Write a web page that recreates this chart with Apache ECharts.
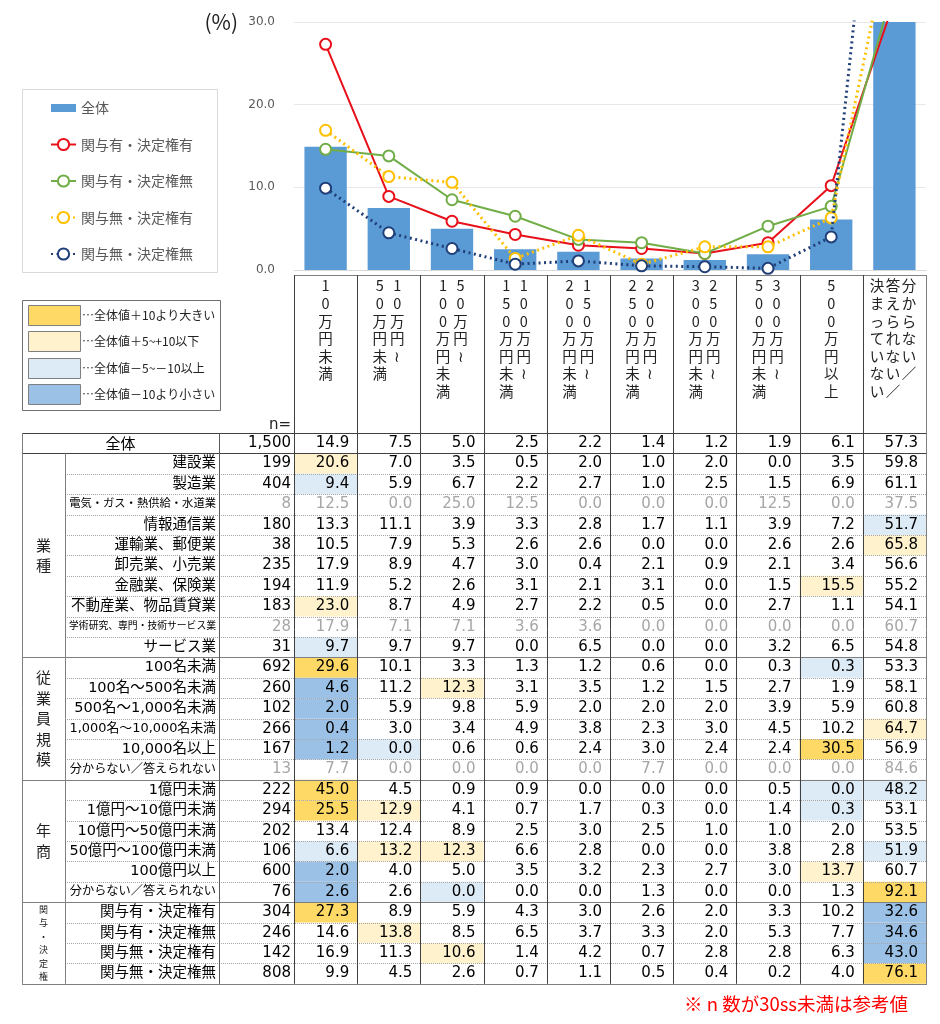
<!DOCTYPE html>
<html>
<head>
<meta charset="utf-8">
<script src="https://cdn.jsdelivr.net/npm/echarts@6/dist/echarts.min.js"></script>
<style>
  html, body { margin: 0; padding: 0; background: #fff; }
  #chart { width: 940px; height: 1024px; }
</style>
</head>
<body>
<div id="chart"></div>
<script>
// ---- data ----
const categories = ['10万円未満', '10万円～50万円未満', '50万円～100万円未満', '100万円～150万円未満',
  '150万円～200万円未満', '200万円～250万円未満', '250万円～300万円未満', '300万円～500万円未満',
  '500万円以上', '分からない／答えられない／決まっていない'];
// 縦書きの見出し（右の列から順に）
const headerLines = [
  ['10万円未満'],
  ['10万円≀', '50万円未満'],
  ['50万円≀', '100万円未満'],
  ['100万円≀', '150万円未満'],
  ['150万円≀', '200万円未満'],
  ['200万円≀', '250万円未満'],
  ['250万円≀', '300万円未満'],
  ['300万円≀', '500万円未満'],
  ['500万円以上'],
  ['分からない／', '答えられない／', '決まっていない']
];
const yTicks = [0, 10, 20, 30];

const totalN = 1500;
const totalValues = [14.9, 7.5, 5.0, 2.5, 2.2, 1.4, 1.2, 1.9, 6.1, 57.3];
const yesYes = [27.3, 8.9, 5.9, 4.3, 3.0, 2.6, 2.0, 3.3, 10.2, 32.6];
const yesNo = [14.6, 13.8, 8.5, 6.5, 3.7, 3.3, 2.0, 5.3, 7.7, 34.6];
const noYes = [16.9, 11.3, 10.6, 1.4, 4.2, 0.7, 2.8, 2.8, 6.3, 43.0];
const noNo = [9.9, 4.5, 2.6, 0.7, 1.1, 0.5, 0.4, 0.2, 4.0, 76.1];
const lineNames = ['関与有・決定権有', '関与有・決定権無', '関与無・決定権有', '関与無・決定権無'];

const groupNames = ['業種', '従業員規模', '年商', '関与・決定権'];
const groupSizes = [10, 6, 6, 4];
const rowLabels = [
  '建設業', '製造業', '電気・ガス・熱供給・水道業', '情報通信業', '運輸業、郵便業', '卸売業、小売業',
  '金融業、保険業', '不動産業、物品賃貸業', '学術研究、専門・技術サービス業', 'サービス業',
  '100名未満', '100名～500名未満', '500名～1,000名未満', '1,000名～10,000名未満', '10,000名以上', '分からない／答えられない',
  '1億円未満', '1億円～10億円未満', '10億円～50億円未満', '50億円～100億円未満', '100億円以上', '分からない／答えられない',
  '関与有・決定権有', '関与有・決定権無', '関与無・決定権有', '関与無・決定権無'
];
const rowN = [199, 404, 8, 180, 38, 235, 194, 183, 28, 31,
  692, 260, 102, 266, 167, 13,
  222, 294, 202, 106, 600, 76,
  304, 246, 142, 808];
const rowValues = [
  [20.6, 7.0, 3.5, 0.5, 2.0, 1.0, 2.0, 0.0, 3.5, 59.8],
  [9.4, 5.9, 6.7, 2.2, 2.7, 1.0, 2.5, 1.5, 6.9, 61.1],
  [12.5, 0.0, 25.0, 12.5, 0.0, 0.0, 0.0, 12.5, 0.0, 37.5],
  [13.3, 11.1, 3.9, 3.3, 2.8, 1.7, 1.1, 3.9, 7.2, 51.7],
  [10.5, 7.9, 5.3, 2.6, 2.6, 0.0, 0.0, 2.6, 2.6, 65.8],
  [17.9, 8.9, 4.7, 3.0, 0.4, 2.1, 0.9, 2.1, 3.4, 56.6],
  [11.9, 5.2, 2.6, 3.1, 2.1, 3.1, 0.0, 1.5, 15.5, 55.2],
  [23.0, 8.7, 4.9, 2.7, 2.2, 0.5, 0.0, 2.7, 1.1, 54.1],
  [17.9, 7.1, 7.1, 3.6, 3.6, 0.0, 0.0, 0.0, 0.0, 60.7],
  [9.7, 9.7, 9.7, 0.0, 6.5, 0.0, 0.0, 3.2, 6.5, 54.8],
  [29.6, 10.1, 3.3, 1.3, 1.2, 0.6, 0.0, 0.3, 0.3, 53.3],
  [4.6, 11.2, 12.3, 3.1, 3.5, 1.2, 1.5, 2.7, 1.9, 58.1],
  [2.0, 5.9, 9.8, 5.9, 2.0, 2.0, 2.0, 3.9, 5.9, 60.8],
  [0.4, 3.0, 3.4, 4.9, 3.8, 2.3, 3.0, 4.5, 10.2, 64.7],
  [1.2, 0.0, 0.6, 0.6, 2.4, 3.0, 2.4, 2.4, 30.5, 56.9],
  [7.7, 0.0, 0.0, 0.0, 0.0, 7.7, 0.0, 0.0, 0.0, 84.6],
  [45.0, 4.5, 0.9, 0.9, 0.0, 0.0, 0.0, 0.5, 0.0, 48.2],
  [25.5, 12.9, 4.1, 0.7, 1.7, 0.3, 0.0, 1.4, 0.3, 53.1],
  [13.4, 12.4, 8.9, 2.5, 3.0, 2.5, 1.0, 1.0, 2.0, 53.5],
  [6.6, 13.2, 12.3, 6.6, 2.8, 0.0, 0.0, 3.8, 2.8, 51.9],
  [2.0, 4.0, 5.0, 3.5, 3.2, 2.3, 2.7, 3.0, 13.7, 60.7],
  [2.6, 2.6, 0.0, 0.0, 0.0, 1.3, 0.0, 0.0, 1.3, 92.1],
  yesYes, yesNo, noYes, noNo
];
// Y:+10超  y:+5～+10  b:-5～-10  B:-10未満
const rowShade = [
  'y.........', 'b.........', '..........', '.........b', '.........y', '..........',
  '........y.', 'y.........', '..........', 'b.........',
  'Y.......b.', 'B.y.......', 'B.........', 'B........y', 'Bb......Y.', '..........',
  'Y.......bb', 'Yy......b.', '..........', 'byy......b', 'B.......y.', 'B.b......Y',
  'Y........B', '.y.......B', '..y......B', '.........Y'
];
const shadeNotes = ['…全体値＋10より大きい', '…全体値＋5~+10以下', '…全体値－5~－10以上', '…全体値－10より小さい'];

// ---- style ----
const FONT_NUM = '"DejaVu Sans", "Noto Sans CJK JP", sans-serif';
const FONT_JP = '"Noto Sans CJK JP", sans-serif';
const shadeColor = { Y: '#FFD966', y: '#FFF2CC', b: '#DDEBF7', B: '#9BC2E6' };
const lineColors = ['#E8101A', '#70AD47', '#FFC000', '#203F78'];

const colLeft = 294, colW = 63.2;
const headTop = 275, rowTop = 433, rowH = 20.4;
const nRows = rowLabels.length + 1;
const tableBottom = rowTop + nRows * rowH;

const measure = document.createElement('canvas').getContext('2d');
function fitSize(text, maxW, base) {
  measure.font = base + 'px ' + FONT_NUM;
  const w = measure.measureText(text).width;
  return w > maxW ? Math.floor(base * maxW / w * 10) / 10 : base;
}

const els = [];
function hline(y, x1, x2, color, dash) {
  els.push({ type: 'line', silent: true, z: dash ? 10 : 11,
    shape: { x1: x1, y1: Math.round(y) + 0.5, x2: x2, y2: Math.round(y) + 0.5 },
    style: { stroke: color, lineWidth: 1, lineDash: dash || null } });
}
function vline(x, y1, y2, color) {
  els.push({ type: 'line', silent: true, z: 12,
    shape: { x1: Math.round(x) + 0.5, y1: y1, x2: Math.round(x) + 0.5, y2: y2 },
    style: { stroke: color, lineWidth: 1 } });
}
function text(t, x, y, opt) {
  els.push({ type: 'text', silent: true, z: 20, x: x, y: y,
    style: Object.assign({ text: t, fill: '#000', fontSize: 15, fontFamily: FONT_NUM,
      align: 'right', verticalAlign: 'middle' }, opt) });
}
const colX = i => colLeft + i * colW;

// legend frames
els.push({ type: 'rect', silent: true, shape: { x: 22.5, y: 89.5, width: 195, height: 183 },
  style: { fill: 'none', stroke: '#d9d9d9', lineWidth: 1 } });
els.push({ type: 'rect', silent: true, shape: { x: 22.5, y: 300.5, width: 198, height: 110 },
  style: { fill: '#fff', stroke: '#6f6f6f', lineWidth: 1 } });
['Y', 'y', 'b', 'B'].forEach((k, i) => {
  const y = 305 + i * 26.3;
  els.push({ type: 'rect', silent: true, shape: { x: 28.5, y: Math.round(y) + 0.5, width: 52, height: 20 },
    style: { fill: shadeColor[k], stroke: '#7f7f7f', lineWidth: 1 } });
  text(shadeNotes[i], 82, y + 10.5, { align: 'left', fontSize: 12, fontFamily: FONT_JP, fill: '#222' });
});

text('(%)', 238, 22, { fontSize: 21, fontFamily: FONT_JP, fill: '#222' });
text('n=', 291, 425, { fontSize: 15, fill: '#222' });

// header
headerLines.forEach((cols, i) => {
  const cx = colX(i) + colW / 2;
  const offs = cols.length === 1 ? [0] : cols.length === 2 ? [8.5, -9] : [14.5, -1.5, -17.5];
  cols.forEach((s, j) => {
    text(s.split('').join('\n'), cx + offs[j], 277,
      { align: 'center', verticalAlign: 'top', fontSize: 14.5, lineHeight: 17.6, fontFamily: FONT_JP, fill: '#222' });
  });
});

// shaded cells
rowShade.forEach((s, r) => {
  s.split('').forEach((k, c) => {
    if (shadeColor[k]) {
      els.push({ type: 'rect', silent: true, z: 5,
        shape: { x: colX(c), y: rowTop + (r + 1) * rowH, width: colW, height: rowH },
        style: { fill: shadeColor[k] } });
    }
  });
});

// horizontal rules
const groupStarts = [1];
groupSizes.forEach(g => groupStarts.push(groupStarts[groupStarts.length - 1] + g));
for (let r = 0; r <= nRows; r++) {
  const y = rowTop + r * rowH;
  if (r === 0 || r === 1) hline(y, 22, colX(10) + 1, '#404040');
  else if (groupStarts.indexOf(r) >= 0) hline(y, 22, colX(10) + 1, '#7f7f7f');
  else hline(y, 65, colX(10) + 1, '#a6a6a6', [1, 1]);
}
hline(headTop, colLeft, colX(10) + 1, '#7f7f7f');
// vertical rules
vline(22, rowTop, tableBottom, '#7f7f7f');
vline(65, rowTop + rowH, tableBottom, '#7f7f7f');
vline(219, rowTop, tableBottom, '#595959');
for (let i = 0; i <= 10; i++) vline(colX(i), headTop, tableBottom, i === 10 ? '#7f7f7f' : '#404040');

// 全体 row
const cy0 = rowTop + rowH / 2;
text('全体', 120.5, cy0, { align: 'center', fontFamily: FONT_JP });
text(totalN.toLocaleString('en-US'), 291, cy0);
totalValues.forEach((v, c) => text(v.toFixed(1), colX(c + 1) - 8, cy0));

// group labels
let start = 1;
groupNames.forEach((g, i) => {
  const small = g.length > 5;
  const cy = rowTop + (start + groupSizes[i] / 2) * rowH;
  text(g.split('').join('\n'), 43.5, cy, { align: 'center', fontFamily: FONT_JP,
    fontSize: small ? 9 : 15, lineHeight: small ? 13.5 : 20.5, fill: '#222' });
  start += groupSizes[i];
});

// body rows
rowLabels.forEach((lab, r) => {
  const cy = rowTop + (r + 1.5) * rowH;
  const grey = rowN[r] < 30;
  const col = grey ? '#a6a6a6' : '#000';
  text(lab, 216, cy, { fontSize: fitSize(lab, 147, 14.5), fontFamily: FONT_NUM });
  text(String(rowN[r]), 291, cy, { fill: col });
  rowValues[r].forEach((v, c) => text(v.toFixed(1), colX(c + 1) - 8, cy, { fill: col }));
});

text('※ n 数が30ss未満は参考値', 908, 1004, { fontSize: 18.5, fontFamily: FONT_JP, fill: '#FF0000' });

// ---- chart ----
const myChart = echarts.init(document.getElementById('chart'));
const option = {
  animation: false,
  textStyle: { fontFamily: FONT_JP },
  grid: { left: colLeft, right: 940 - colX(10), top: 22, height: 248 },
  legend: {
    orient: 'vertical', left: 45, top: 96, itemGap: 22.5, itemWidth: 25, itemHeight: 14,
    textStyle: { fontSize: 14, color: '#595959', fontFamily: FONT_JP },
    data: [{ name: '全体', icon: 'path://M0,0h25v8h-25z' }].concat(lineNames)
  },
  xAxis: {
    type: 'category', data: categories,
    axisLabel: { show: false }, axisTick: { show: false },
    axisLine: { lineStyle: { color: '#d9d9d9' } }
  },
  yAxis: {
    type: 'value', min: yTicks[0], max: yTicks[yTicks.length - 1], interval: 10,
    axisLabel: { formatter: v => v.toFixed(1), color: '#595959', fontSize: 12, fontFamily: FONT_NUM, margin: 19 },
    splitLine: { lineStyle: { color: '#e8e8e8' } },
    axisLine: { show: false }, axisTick: { show: false }
  },
  series: [
    { name: '全体', type: 'bar', data: totalValues, barCategoryGap: '33%',
      itemStyle: { color: '#5B9BD5' }, z: 1 }
  ].concat([yesYes, yesNo, noYes, noNo].map((d, i) => ({
    name: lineNames[i], type: 'line', data: d, z: 3 + i,
    color: lineColors[i], symbol: 'emptyCircle', symbolSize: 11,
    itemStyle: { borderWidth: 2 },
    lineStyle: i < 2 ? { width: 2 } : { width: 3, type: [2, 3.5] }
  }))),
  graphic: { elements: els }
};
myChart.setOption(option);
</script>
</body>
</html>
